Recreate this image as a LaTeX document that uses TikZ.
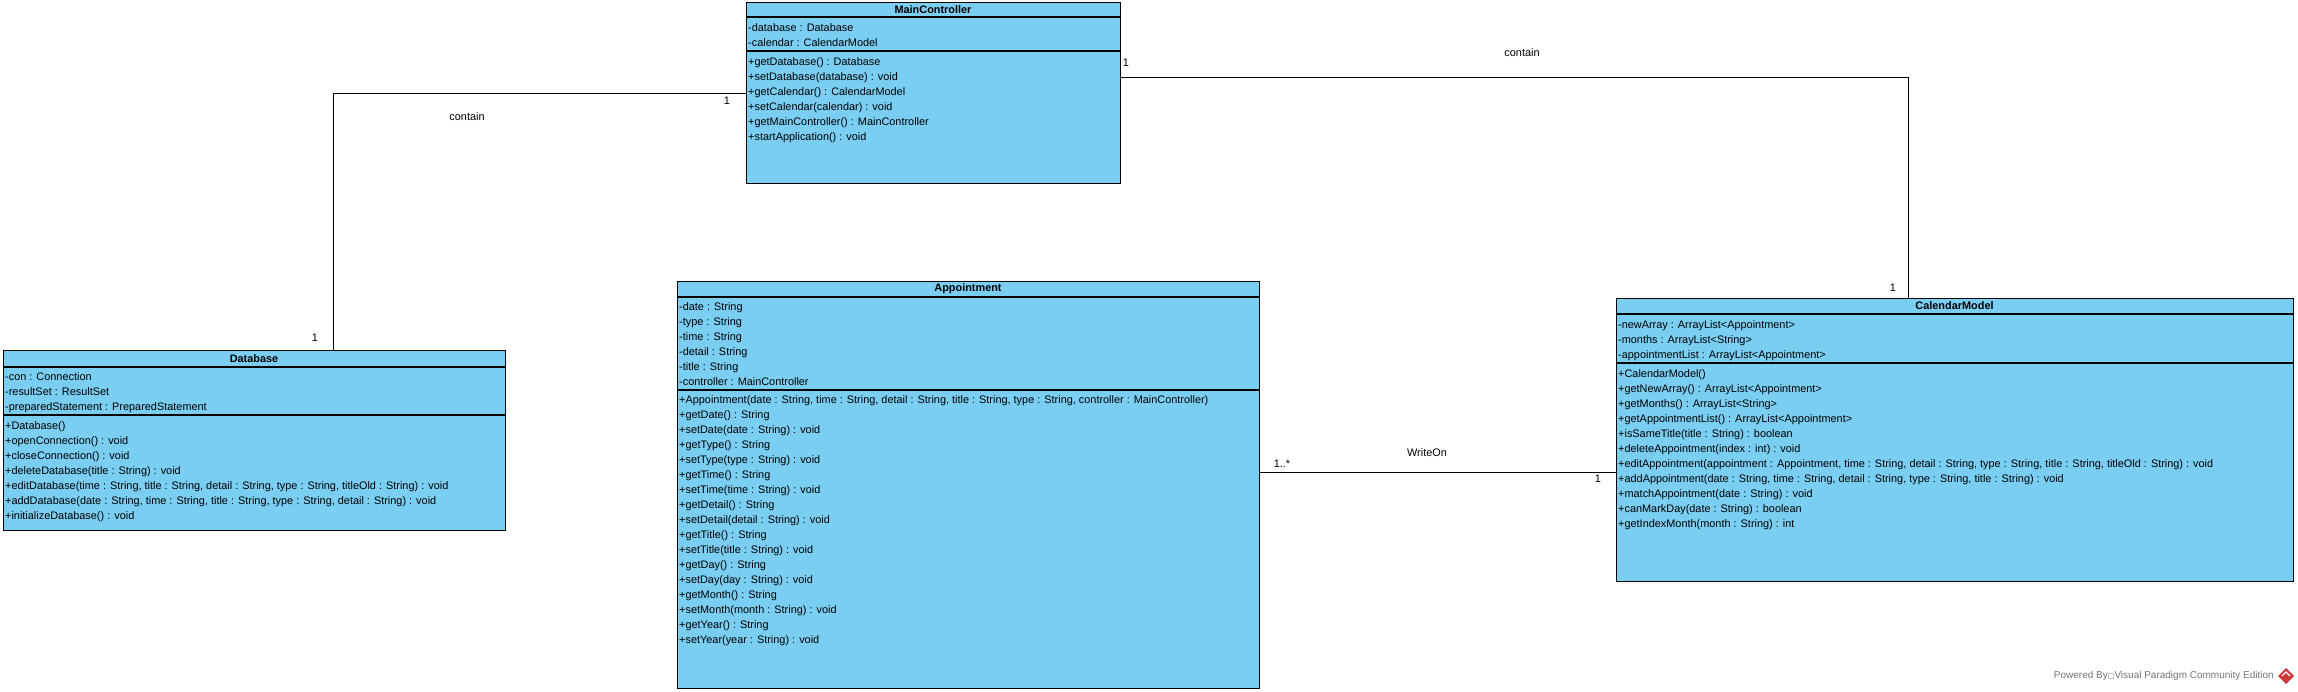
\documentclass[tikz,border=0pt]{standalone}
\usepackage{fontspec}
\setmainfont{Liberation Sans}
\newfontfamily\boxfont{DejaVu Sans}
\usepackage{tikz}
\definecolor{clsblue}{RGB}{122,206,242}
\definecolor{vpred}{RGB}{205,55,55}
\definecolor{markgray}{RGB}{115,115,115}

\begin{document}
\begin{tikzpicture}[x=1pt,y=-1pt,
			cls/.style={draw, fill=clsblue, line width=1.3pt, anchor=north west, inner sep=0pt},
			head/.style={font=\fontsize{10.9}{15}\selectfont\bfseries, inner sep=0pt},
			mem/.style={anchor=north west, align=left, inner sep=0pt, font=\fontsize{10.9}{15}\selectfont, execute at begin node=\strut},
			lbl/.style={font=\fontsize{10.9}{15}\selectfont, inner sep=0pt},
			conn/.style={line width=1.1pt}
		]

		\useasboundingbox (0,0) rectangle (2298,692);

		\node[cls, minimum width=374pt, minimum height=181pt] (mc) at (746,2) {};
		\draw[line width=1.3pt] (746,17) -- (1120,17);
		\draw[line width=1.3pt] (746,51) -- (1120,51);
		\node[head] (mctitle) at (933,9.5) {MainController};
		\node[mem] (mcattr) at (748,23) {-database : Database\\-calendar : CalendarModel};
		\node[mem] (mcops) at (748,57) {+getDatabase() : Database\\+setDatabase(database) : void\\+getCalendar() : CalendarModel\\+setCalendar(calendar) : void\\+getMainController() : MainController\\+startApplication() : void};

		\node[cls, minimum width=502pt, minimum height=180pt] (db) at (3,350) {};
		\draw[line width=1.3pt] (3,367) -- (505,367);
		\draw[line width=1.3pt] (3,415) -- (505,415);
		\node[head] (dbtitle) at (254,358.5) {Database};
		\node[mem] (dbattr) at (5,372.5) {-con : Connection\\-resultSet : ResultSet\\-preparedStatement : PreparedStatement};
		\node[mem] (dbops) at (5,421) {+Database()\\+openConnection() : void\\+closeConnection() : void\\+deleteDatabase(title : String) : void\\+editDatabase(time : String, title : String, detail : String, type : String, titleOld : String) : void\\+addDatabase(date : String, time : String, title : String, type : String, detail : String) : void\\+initializeDatabase() : void};

		\node[cls, minimum width=582pt, minimum height=407pt] (ap) at (677,281) {};
		\draw[line width=1.3pt] (677,297) -- (1259,297);
		\draw[line width=1.3pt] (677,390) -- (1259,390);
		\node[head] (aptitle) at (968,289) {Appointment};
		\node[mem] (apattr) at (679,302) {-date : String\\-type : String\\-time : String\\-detail : String\\-title : String\\-controller : MainController};
		\node[mem] (apops) at (679,395) {+Appointment(date : String, time : String, detail : String, title : String, type : String, controller : MainController)\\+getDate() : String\\+setDate(date : String) : void\\+getType() : String\\+setType(type : String) : void\\+getTime() : String\\+setTime(time : String) : void\\+getDetail() : String\\+setDetail(detail : String) : void\\+getTitle() : String\\+setTitle(title : String) : void\\+getDay() : String\\+setDay(day : String) : void\\+getMonth() : String\\+setMonth(month : String) : void\\+getYear() : String\\+setYear(year : String) : void};

		\node[cls, minimum width=677pt, minimum height=283pt] (cm) at (1616,298) {};
		\draw[line width=1.3pt] (1616,314) -- (2293,314);
		\draw[line width=1.3pt] (1616,363) -- (2293,363);
		\node[head] (cmtitle) at (1954.5,306) {CalendarModel};
		\node[mem] (cmattr) at (1618,320.5) {-newArray : ArrayList<Appointment>\\-months : ArrayList<String>\\-appointmentList : ArrayList<Appointment>};
		\node[mem] (cmops) at (1618,369.5) {+CalendarModel()\\+getNewArray() : ArrayList<Appointment>\\+getMonths() : ArrayList<String>\\+getAppointmentList() : ArrayList<Appointment>\\+isSameTitle(title : String) : boolean\\+deleteAppointment(index : int) : void\\+editAppointment(appointment : Appointment, time : String, detail : String, type : String, title : String, titleOld : String) : void\\+addAppointment(date : String, time : String, detail : String, type : String, title : String) : void\\+matchAppointment(date : String) : void\\+canMarkDay(date : String) : boolean\\+getIndexMonth(month : String) : int};

		\draw[conn] ([xshift=79pt]db.north) |- (mc.west);
		\draw[conn] ([yshift=16pt]mc.east) -| ([xshift=-46.5pt]cm.north);
		\coordinate (wo) at ([yshift=12.5pt]ap.east);
		\draw[conn] (wo) -- (wo -| cm.west);

		\node[lbl] (dbmcname) at (467,117) {contain};
		\node[lbl] (dbone) at (315,338) {1};
		\node[lbl] (mcone) at (727,101) {1};
		\node[lbl] (mccmname) at (1522,53) {contain};
		\node[lbl] (mctwo) at (1126,63) {1};
		\node[lbl] (cmone) at (1893,288) {1};
		\node[lbl] (apmany) at (1282,464) {1..*};
		\node[lbl] (woname) at (1427,453) {WriteOn};
		\node[lbl] (cmtwo) at (1598,479) {1};

		\node[anchor=east, inner sep=0pt, text=markgray, font=\fontsize{10}{12}\selectfont] (vpmark) at (2274,676) {Powered By{\boxfont\fontsize{7}{8}\selectfont □}Visual Paradigm Community Edition};
		\fill[vpred] (2286,668) -- (2294,676) -- (2286,684) -- (2278,676) -- cycle;
		\draw[white, line width=1.2pt] (2282,676) -- (2286,672) -- (2290,676);

	\end{tikzpicture}
\end{document}
